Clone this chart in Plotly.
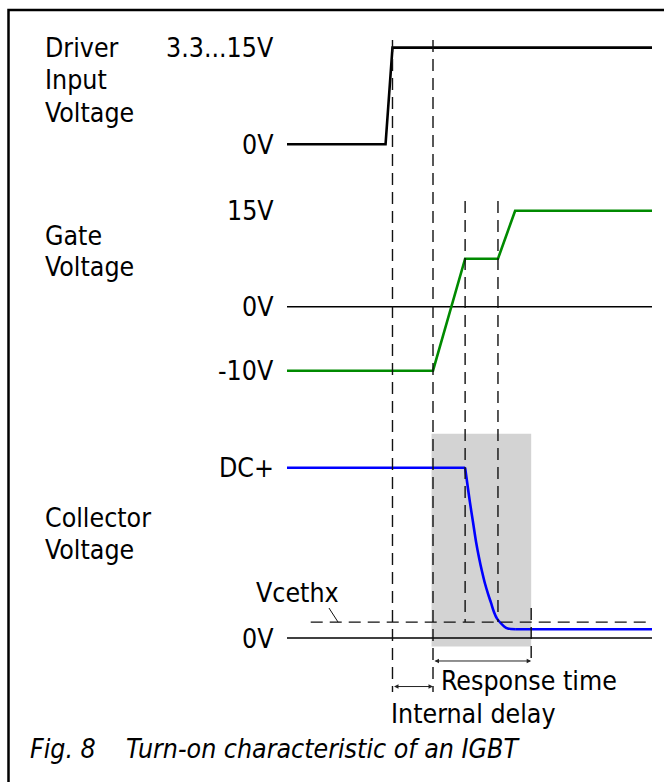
import plotly.graph_objects as go

# ---------------- data (time in arbitrary units, voltages per panel) ----------------
t_driver = [0, 27.0, 28.9, 100]
v_driver = [0, 0, 15, 15]

t_gate = [0, 40.0, 48.8, 57.8, 62.5, 100]
v_gate = [-10, -10, 7.5, 7.5, 15, 15]

# collector voltage in % of DC+
t_coll = [0, 48.8, 49.3, 50.1, 51.0, 51.8, 52.6, 53.4, 54.2, 55.1, 55.9, 56.7, 57.5, 58.4, 59.5, 60.5, 62.5, 100]
v_coll = [100, 100, 92.2, 79.9, 67.5, 56.4, 47.3, 39.3, 32.3, 25.8, 20.6, 15.3, 11.5, 9.1, 6.8, 5.6, 5.1, 5.1]

zero_t = [0, 100]
zero_v = [0, 0]

vcethx_t = [6.5, 100]
vcethx_v = 9.3

event_t = [28.9, 40.0, 48.8, 57.8, 66.9]   # dashed markers
shade_t = [39.6, 66.9]
shade_v = [-5, 120]
resp_arrow_v = -13.5
delay_arrow_v = -28.5

driver_ticks = [(15, "3.3...15V"), (0, "0V")]
gate_ticks = [(15, "15V"), (0, "0V"), (-10, "-10V")]
coll_ticks = [(100, "DC+"), (0, "0V")]

# ---------------- layout geometry ----------------
W, H = 664, 782
X0PX, PXU = 287, 3.65
xr = [-X0PX / PXU, (W - X0PX) / PXU]


def yrange(px_ref, ppu, v_ref=0):
    return [v_ref - (H - px_ref) / ppu, v_ref + px_ref / ppu]


def py(px):
    return 1 - px / H


def pxx(px):
    return px / W


FONT = "Tahoma, 'DejaVu Sans Condensed', 'DejaVu Sans', sans-serif"
FS = 26.5
DASH = "12px,7px"
DCOL = "#111111"

fig = go.Figure()
fig.add_trace(go.Scatter(x=zero_t, y=zero_v, yaxis="y2", mode="lines",
                         line=dict(color="black", width=1.5), hoverinfo="skip"))
fig.add_trace(go.Scatter(x=zero_t, y=zero_v, yaxis="y3", mode="lines",
                         line=dict(color="black", width=1.5), hoverinfo="skip"))
fig.add_trace(go.Scatter(x=t_driver, y=v_driver, yaxis="y", mode="lines",
                         line=dict(color="black", width=2.6), hoverinfo="skip"))
fig.add_trace(go.Scatter(x=t_gate, y=v_gate, yaxis="y2", mode="lines",
                         line=dict(color="#008a00", width=2.6), hoverinfo="skip"))
# collector: flat parts straight, falling edge smoothed
fig.add_trace(go.Scatter(x=t_coll[:2], y=v_coll[:2], yaxis="y3", mode="lines",
                         line=dict(color="#0000ff", width=2.6), hoverinfo="skip"))
fig.add_trace(go.Scatter(x=t_coll[1:-1], y=v_coll[1:-1], yaxis="y3", mode="lines",
                         line=dict(color="#0000ff", width=2.6, shape="spline", smoothing=0.8),
                         hoverinfo="skip"))
fig.add_trace(go.Scatter(x=t_coll[-2:], y=v_coll[-2:], yaxis="y3", mode="lines",
                         line=dict(color="#0000ff", width=2.6), hoverinfo="skip"))

shapes = []
# frame
shapes.append(dict(type="rect", xref="paper", yref="paper", x0=pxx(8.5), x1=1.1,
                   y0=-0.1, y1=py(10), line=dict(color="black", width=2.5), layer="below"))
# grey response-time area
shapes.append(dict(type="rect", xref="x", yref="y3", x0=shade_t[0], x1=shade_t[1],
                   y0=shade_v[0], y1=shade_v[1], fillcolor="#d3d3d3",
                   line=dict(width=0), layer="below"))
# dashed event lines
extents = [(40, 692), (40, 692), (201, 622), (201, 622), (608, 664)]
for t, (a, b) in zip(event_t, extents):
    shapes.append(dict(type="line", xref="x", yref="paper", x0=t, x1=t, y0=py(a), y1=py(b),
                       line=dict(color=DCOL, width=1.4, dash=DASH)))
# Vce threshold dashed line
shapes.append(dict(type="line", xref="x", yref="y3", x0=vcethx_t[0], x1=vcethx_t[1],
                   y0=vcethx_v, y1=vcethx_v, line=dict(color=DCOL, width=1.4, dash=DASH)))
# leader for Vcethx
shapes.append(dict(type="line", xref="x", yref="y3", x0=11.5, x1=14.0, y0=17.6, y1=vcethx_v,
                   line=dict(color=DCOL, width=1)))

ann = []


def label(text, x_px, yval, yref, anchor="right"):
    ann.append(dict(text=text, xref="paper", x=pxx(x_px), xanchor=anchor, yref=yref, y=yval,
                    yanchor="middle", showarrow=False, font=dict(family=FONT, size=FS, color="black")))


for v, s in driver_ticks:
    label(s, 276, v, "y")
for v, s in gate_ticks:
    label(s, 276, v, "y2")
for v, s in coll_ticks:
    label(s, 276, v, "y3")


def ptext(text, x_px, y_px, italic=False):
    ann.append(dict(text=text, xref="paper", x=pxx(x_px), xanchor="left", yref="paper", y=py(y_px),
                    yanchor="middle", showarrow=False,
                    font=dict(family=FONT, size=FS, color="black", style="italic" if italic else "normal")))


for s, y in [("Driver", 48), ("Input", 80), ("Voltage", 112), ("Gate", 235), ("Voltage", 267),
             ("Collector", 517), ("Voltage", 549)]:
    ptext(s, 43, y)
ptext("Vcethx", 254, 592)
ptext("Response time", 439, 680)
ptext("Internal delay", 389, 713)
ptext("Fig. 8\u00a0\u00a0\u00a0\u00a0Turn-on characteristic of an IGBT", 28, 748, italic=True)

# arrows
for (a, b), v in [((event_t[1], event_t[4]), resp_arrow_v), ((event_t[0], event_t[1]), delay_arrow_v)]:
    ann.append(dict(text="", x=b, y=v, ax=a, ay=v, xref="x", yref="y3", axref="x", ayref="y3",
                    showarrow=True, arrowhead=2, arrowside="end+start", arrowsize=0.9,
                    arrowwidth=1, arrowcolor="#222", standoff=0, startstandoff=0))

fig.update_layout(
    width=W, height=H, margin=dict(l=0, r=0, t=0, b=0),
    paper_bgcolor="white", plot_bgcolor="white", showlegend=False,
    xaxis=dict(range=xr, visible=False, fixedrange=True),
    yaxis=dict(range=yrange(144.3, 6.447), visible=False, domain=[0, 1]),
    yaxis2=dict(range=yrange(306.7, 6.4), visible=False, overlaying="y"),
    yaxis3=dict(range=yrange(638, 1.703), visible=False, overlaying="y"),
    shapes=shapes, annotations=ann,
)
fig.write_html("out.html", config={"displayModeBar": False},
               post_script="document.body.style.margin='0';document.body.style.overflow='hidden';")
